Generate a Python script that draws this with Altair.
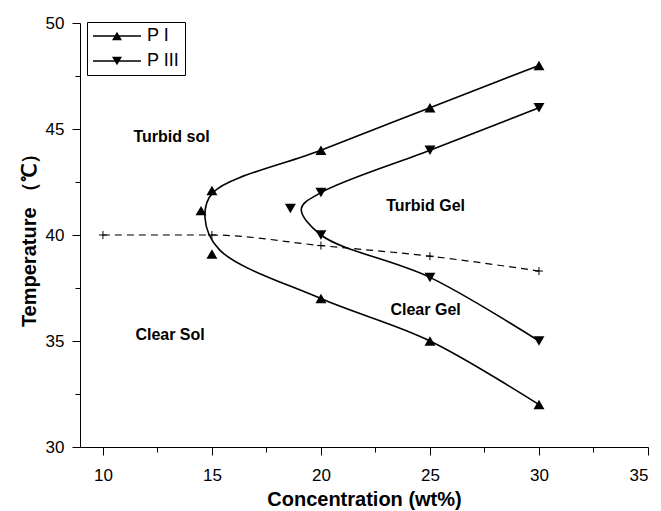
import altair as alt
import pandas as pd

# ---- data ----
series_names = ["P I", "P III"]
# P I markers
pi_conc = [14.5, 15, 15, 20, 25, 30, 20, 25, 30]
pi_temp = [41.15, 42.1, 39.1, 44, 46, 48, 37, 35, 32]
# P III markers
p3_conc = [18.6, 20, 20, 25, 30, 25, 30]
p3_temp = [41.25, 42, 40, 44, 46, 38, 35]
# boundary curves as drawn (drawing order)
pi_curve_conc = [30, 25, 20, 15.35, 14.68, 15.05, 20, 25, 30]
pi_curve_temp = [32, 35, 37, 39.3, 40.85, 42.0, 44, 46, 48]
p3_curve_conc = [30, 25, 20, 19.1, 20, 25, 30]
p3_curve_temp = [35, 38, 40, 41.25, 42, 44, 46]
# dashed clear/turbid line
cl_conc = [10, 15, 20, 25, 30]
cl_temp = [40, 40, 39.5, 39, 38.3]
# region annotations
ann_text = ["Turbid sol", "Clear Sol", "Turbid Gel", "Clear Gel"]
ann_conc = [13.15, 13.08, 24.8, 24.8]
ann_temp = [44.62, 35.28, 41.35, 36.45]
# axis ticks
x_ticks = [10, 12.5, 15, 17.5, 20, 22.5, 25, 27.5, 30, 32.5, 35]
y_ticks = [30, 32.5, 35, 37.5, 40, 42.5, 45, 47.5, 50]

FONT = "Liberation Sans"

markers = pd.DataFrame({
    "conc": pi_conc + p3_conc,
    "temp": pi_temp + p3_temp,
    "series": ["P I"] * len(pi_conc) + ["P III"] * len(p3_conc),
})
curves = pd.DataFrame({
    "conc": pi_curve_conc + p3_curve_conc,
    "temp": pi_curve_temp + p3_curve_temp,
    "series": ["P I"] * len(pi_curve_conc) + ["P III"] * len(p3_curve_conc),
    "idx": list(range(len(pi_curve_conc))) + list(range(len(p3_curve_conc))),
})
cloud = pd.DataFrame({"conc": cl_conc, "temp": cl_temp})
ann = pd.DataFrame({"conc": ann_conc, "temp": ann_temp, "text": ann_text})

xs = alt.Scale(domain=[8.95, 35], nice=False, zero=False)
ys = alt.Scale(domain=[30, 50], nice=False, zero=False)

major = "datum.value % 5 === 0"
common_axis = dict(
    grid=False,
    labelExpr=f"{major} ? datum.label : ''",
    tickSize={"condition": {"test": major, "value": 8}, "value": 5},
    labelFontSize=17, labelFont=FONT, labelColor="black",
    titleFontSize=20, titleFont=FONT, titleFontWeight="bold", titleColor="black",
    domainColor="black", tickColor="black", labelOverlap=False,
)
x_axis = alt.Axis(values=x_ticks, title="Concentration (wt%)",
                  labelPadding=12, titlePadding=6, **common_axis)
y_axis = alt.Axis(values=y_ticks, title="Temperature （℃）",
                  labelPadding=8, titlePadding=6, **common_axis)


def X():
    return alt.X("conc:Q", scale=xs, axis=x_axis)


def Y():
    return alt.Y("temp:Q", scale=ys, axis=y_axis)


curve_layer = alt.Chart(curves).mark_line(
    color="black", strokeWidth=1.6, interpolate="catmull-rom"
).encode(x=X(), y=Y(), detail="series:N", order="idx:Q")

dash_layer = alt.Chart(cloud).mark_line(
    color="black", strokeWidth=1.2, strokeDash=[7, 5], interpolate="monotone"
).encode(x=X(), y=Y())

cross_layer = alt.Chart(cloud).mark_point(
    shape="M-1,0L1,0M0,-1L0,1", size=64, filled=False, color="black",
    strokeWidth=1, opacity=1,
).encode(x=X(), y=Y())

marker_layer = alt.Chart(markers).mark_point(
    filled=True, size=120, color="black", opacity=1
).encode(
    x=X(), y=Y(),
    shape=alt.Shape("series:N", scale=alt.Scale(domain=series_names,
                    range=["triangle-up", "triangle-down"]), legend=None),
)

legend_paths = [
    "M-4.8,-0.13L4.8,-0.13L4.8,0.13L-4.8,0.13ZM0,-0.87L1,0.87L-1,0.87Z",
    "M-4.8,-0.13L4.8,-0.13L4.8,0.13L-4.8,0.13ZM0,0.87L-1,-0.87L1,-0.87Z",
]
legend_layer = alt.Chart(markers).transform_filter("datum.conc < -1000").mark_point(
    filled=True, size=100, color="black"
).encode(
    x=X(), y=Y(),
    shape=alt.Shape("series:N", scale=alt.Scale(domain=series_names, range=legend_paths),
                    legend=alt.Legend(
                        title=None, orient="none", legendX=7, legendY=-1,
                        strokeColor="black", padding=5,
                        labelFontSize=18, labelFont=FONT, labelColor="black",
                        symbolSize=100, symbolFillColor="black",
                        symbolStrokeColor="black", symbolStrokeWidth=0,
                        symbolOffset=16, labelOffset=21, rowPadding=7,
                        symbolOpacity=1,
                    )),
)

text_layer = alt.Chart(ann).mark_text(
    font=FONT, fontSize=16, fontWeight="bold", color="black",
    align="center", baseline="middle",
).encode(x=X(), y=Y(), text="text:N")

chart = alt.layer(
    curve_layer, dash_layer, cross_layer, marker_layer, legend_layer, text_layer
).resolve_scale(shape="independent").properties(
    width=568, height=424,
    autosize=alt.AutoSizeParams(type="none"),
    padding={"left": 80, "top": 23, "right": 13, "bottom": 64},
).configure_view(stroke=None).configure_legend(strokeWidth=1)

chart.save("out.html", embed_options={"renderer": "svg", "actions": False})
